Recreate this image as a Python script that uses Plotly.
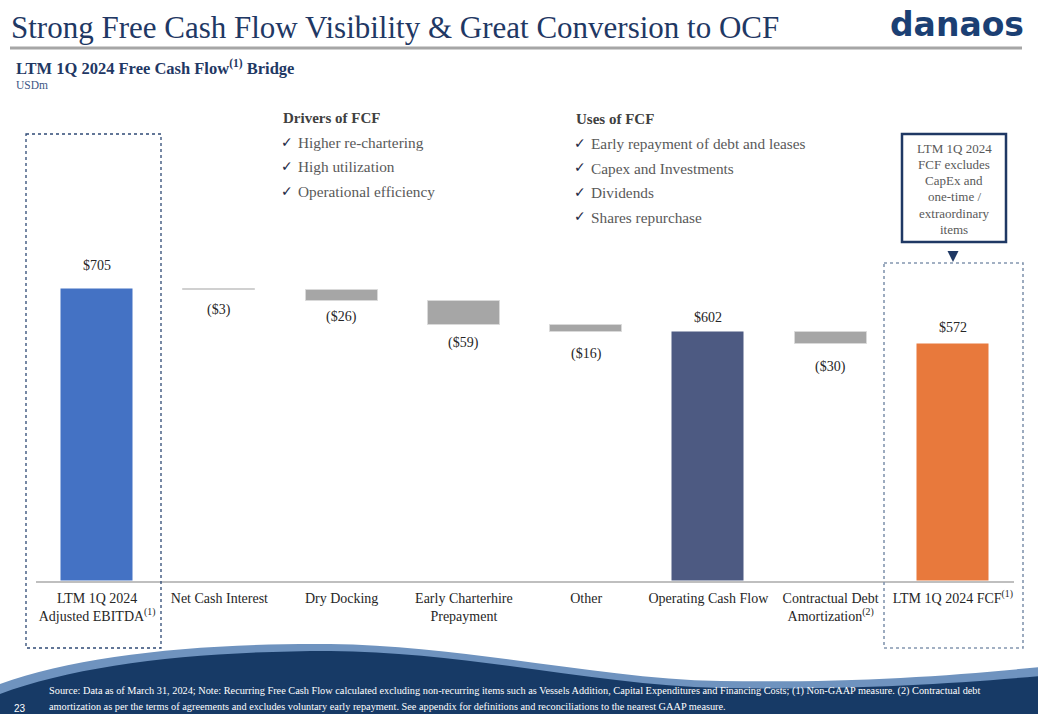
import plotly.graph_objects as go

# ---------------- data ----------------
categories = [
    "LTM 1Q 2024<br>Adjusted EBITDA<sup>(1)</sup>",
    "Net Cash Interest",
    "Dry Docking",
    "Early Charterhire<br>Prepayment",
    "Other",
    "Operating Cash Flow",
    "Contractual Debt<br>Amortization<sup>(2)</sup>",
    "LTM 1Q 2024 FCF<sup>(1)</sup>",
]
values = [705, -3, -26, -59, -16, 602, -30, 572]
measures = ["total", "relative", "relative", "relative", "relative", "total", "relative", "total"]

drivers = ["Higher re-chartering", "High utilization", "Operational efficiency"]
uses = ["Early repayment of debt and leases", "Capex and Investments", "Dividends", "Shares repurchase"]
callout_lines = ["LTM 1Q 2024", "FCF excludes", "CapEx and", "one-time /", "extraordinary", "items"]

# ---------------- styles ----------------
bar_colors = ["#4472C4", "#D0D0D0", "#A6A6A6", "#A6A6A6", "#A6A6A6", "#4D5A82", "#A6A6A6", "#E8793C"]
label_shift = [14, 10, 6, 8, 12, 5, 13, 7]
NAVY = "#1F3864"
SERIF = "Liberation Serif"

W, H = 1038, 714
L, R, T, B = 36, 24, 100, 133
PW, PH = W - L - R, H - T - B


def px(x):
    return (x - L) / PW


def py(y):
    return (H - B - y) / PH


# waterfall geometry from the data
bases, heights, tops_bottoms = [], [], []
running = 0
for v, m in zip(values, measures):
    if m == "total":
        bases.append(0)
        heights.append(v)
        running = v
        tops_bottoms.append(v)
    else:
        bottom = running + v
        bases.append(bottom)
        heights.append(-v)
        running = bottom
        tops_bottoms.append(bottom)

xs = list(range(len(categories)))

fig = go.Figure()
fig.add_trace(go.Bar(
    x=xs, y=heights, base=bases, width=0.59,
    marker=dict(color=bar_colors,
                line=dict(color=["rgba(0,0,0,0)", "#D0D0D0", "#D9D9D9", "#D9D9D9", "#D9D9D9",
                                 "rgba(0,0,0,0)", "#D9D9D9", "rgba(0,0,0,0)"], width=1)),
    hoverinfo="skip",
))

annotations = []
for i, (v, m) in enumerate(zip(values, measures)):
    if v >= 0:
        annotations.append(dict(x=i, y=tops_bottoms[i], xref="x", yref="y", text=f"${v:,}",
                                showarrow=False, yanchor="bottom", yshift=label_shift[i],
                                font=dict(family=SERIF, size=14, color="#262626")))
    else:
        annotations.append(dict(x=i, y=tops_bottoms[i], xref="x", yref="y", text=f"(${-v:,})",
                                showarrow=False, yanchor="top", yshift=-label_shift[i],
                                font=dict(family=SERIF, size=14, color="#262626")))

# title & subtitle
annotations.append(dict(x=px(9), y=py(27), xref="paper", yref="paper", xanchor="left", yanchor="middle",
                        text="Strong Free Cash Flow Visibility &amp; Great Conversion to OCF", showarrow=False,
                        font=dict(family=SERIF, size=31, color=NAVY)))
annotations.append(dict(x=px(14), y=py(67), xref="paper", yref="paper", xanchor="left", yanchor="middle",
                        text="<b>LTM 1Q 2024 Free Cash Flow<sup>(1)</sup> Bridge</b>", showarrow=False,
                        font=dict(family=SERIF, size=16.5, color=NAVY)))
annotations.append(dict(x=px(14), y=py(85), xref="paper", yref="paper", xanchor="left", yanchor="middle",
                        text="USDm", showarrow=False,
                        font=dict(family=SERIF, size=11.5, color="#3B5585")))

# logo
annotations.append(dict(x=px(957), y=py(25), xref="paper", yref="paper", xanchor="center", yanchor="middle",
                        text="<b>danaos</b>", showarrow=False,
                        font=dict(family="DejaVu Sans", size=33, color="#1B3F73")))

# drivers / uses blocks
def bullet_block(x0, y0, header, items, step):
    out = [dict(x=px(x0), y=py(y0), xref="paper", yref="paper", xanchor="left", yanchor="middle",
                text=f"<b>{header}</b>", showarrow=False,
                font=dict(family=SERIF, size=15, color="#404040"))]
    for k, it in enumerate(items):
        yy = y0 + step * (k + 1)
        out.append(dict(x=px(x0 - 2), y=py(yy - 1), xref="paper", yref="paper", xanchor="left",
                        yanchor="middle", text="✓", showarrow=False,
                        font=dict(family="DejaVu Sans", size=14, color="#1F2A44")))
        out.append(dict(x=px(x0 + 15), y=py(yy), xref="paper", yref="paper", xanchor="left",
                        yanchor="middle", text=it, showarrow=False,
                        font=dict(family=SERIF, size=15.3, color="#595959")))
    return out


annotations += bullet_block(281, 118, "Drivers of FCF", drivers, 24.5)
annotations += bullet_block(574, 119, "Uses of FCF", uses, 24.5)

# callout
for k, line in enumerate(callout_lines):
    annotations.append(dict(x=px(954), y=py(148 + k * 16.3), xref="paper", yref="paper",
                            xanchor="center", yanchor="middle", text=line, showarrow=False,
                            font=dict(family=SERIF, size=13, color="#595959")))
annotations.append(dict(x=px(953), y=py(262), xref="paper", yref="paper", ax=0, ay=-19,
                        text=" ", showarrow=True, arrowhead=2, arrowsize=1, arrowwidth=2.2,
                        arrowcolor=NAVY))

# footer text
annotations.append(dict(x=px(47), y=py(691), xref="paper", yref="paper", xanchor="left", yanchor="middle",
                        text="Source: Data as of March 31, 2024; Note: Recurring Free Cash Flow calculated excluding "
                             "non-recurring items such as Vessels Addition, Capital Expenditures and Financing Costs; "
                             "(1) Non-GAAP measure. (2) Contractual debt",
                        showarrow=False, font=dict(family=SERIF, size=10.3, color="#FFFFFF")))
annotations.append(dict(x=px(47), y=py(706), xref="paper", yref="paper", xanchor="left", yanchor="middle",
                        text="amortization as per the terms of agreements and excludes voluntary early repayment. "
                             "See appendix for definitions and reconciliations to the nearest GAAP measure.",
                        showarrow=False, font=dict(family=SERIF, size=10.3, color="#FFFFFF")))
annotations.append(dict(x=px(12), y=py(708), xref="paper", yref="paper", xanchor="left", yanchor="middle",
                        text="23", showarrow=False, font=dict(family="Liberation Sans", size=10, color="#FFFFFF")))


def P(x, y):
    return f"{px(x):.5f},{py(y):.5f}"


stripe = (f"M {P(0,684)} C {P(80,655)} {P(200,643)} {P(330,644)} C {P(470,646)} {P(600,679)} {P(720,681)} "
          f"C {P(850,683)} {P(950,676)} {P(1040,667)} L {P(1040,716)} L {P(0,716)} Z")
navy = (f"M {P(0,694)} C {P(80,664)} {P(200,651)} {P(330,651)} C {P(470,652)} {P(600,686)} {P(720,688)} "
        f"C {P(850,690)} {P(950,684)} {P(1040,676)} L {P(1040,716)} L {P(0,716)} Z")

shapes = [
    # title rule
    dict(type="line", xref="paper", yref="paper", x0=px(10), x1=px(1022), y0=py(48), y1=py(48),
         line=dict(color="#A6A6A6", width=3)),
    # logo stripe
    dict(type="line", xref="paper", yref="paper", x0=px(891), x1=px(1024), y0=py(33), y1=py(33),
         line=dict(color="#FFFFFF", width=1.2)),
    # dotted boxes
    dict(type="rect", xref="paper", yref="paper", x0=px(26), x1=px(161), y0=py(134), y1=py(648),
         line=dict(color="#2F4A75", width=1.3, dash="dot")),
    dict(type="rect", xref="paper", yref="paper", x0=px(884), x1=px(1023), y0=py(263), y1=py(648),
         line=dict(color="#8497B0", width=1.6, dash="dot")),
    # callout box
    dict(type="rect", xref="paper", yref="paper", x0=px(902), x1=px(1006), y0=py(134), y1=py(242),
         line=dict(color=NAVY, width=2.5), fillcolor="rgba(255,255,255,0)"),
    # footer wave
    dict(type="path", xref="paper", yref="paper", path=stripe, fillcolor="#6F93BF", line=dict(width=0)),
    dict(type="path", xref="paper", yref="paper", path=navy, fillcolor="#173A66", line=dict(width=0)),
]

fig.update_layout(
    width=W, height=H,
    margin=dict(l=L, r=R, t=T, b=B),
    paper_bgcolor="white", plot_bgcolor="white",
    showlegend=False,
    bargap=0,
    xaxis=dict(range=[-0.5, len(categories) - 0.5], tickvals=xs, ticktext=categories,
               showgrid=False, zeroline=False, showline=True, linecolor="#BFBFBF", linewidth=2,
               ticks="", ticklabelstandoff=3,
               tickfont=dict(family=SERIF, size=14, color="#262626"), fixedrange=True),
    yaxis=dict(range=[0, PH / (292 / 705)], visible=False, fixedrange=True),
    annotations=annotations,
    shapes=shapes,
)

fig.write_html("out.html", config={"displayModeBar": False})
